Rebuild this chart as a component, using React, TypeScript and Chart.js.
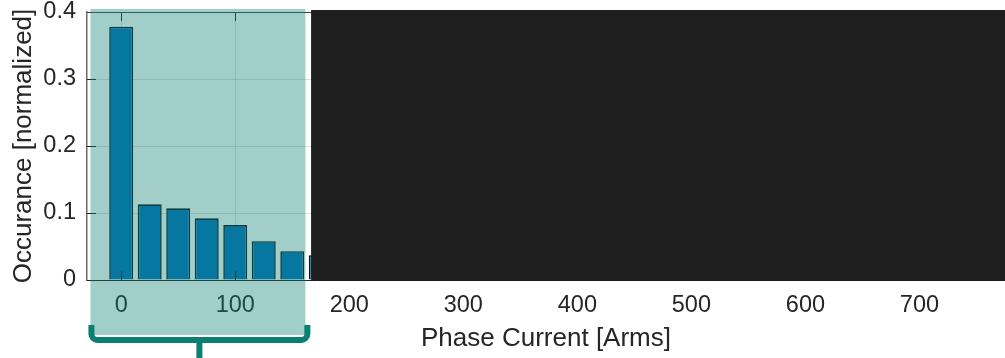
import { useEffect, useRef } from "react";
import { Chart, registerables } from "chart.js";

Chart.register(...registerables);

// Histogram bins (bin centers, Arms) and normalized occurrence
const binCenters = [0, 25, 50, 75, 100, 125, 150, 175];
const occurrence = [0.378, 0.113, 0.107, 0.092, 0.082, 0.058, 0.043, 0.037];
const xTicks = [0, 100, 200, 300, 400, 500, 600, 700];
const yTicks = [0, 0.1, 0.2, 0.3, 0.4];
const xRange = [-30, 775];
const yRange = [0, 0.4];
// annotation ranges (in x data units)
const highlightRange = [-27, 161.5];
const maskStart = 166.5;

const TEXT = "#262626";
const FONT = "'Liberation Sans', Arial, Helvetica, sans-serif";

const overlayPlugin = {
  id: "overlayPlugin",
  afterDatasetsDraw(chart: any) {
    const { ctx, chartArea: a, scales } = chart;
    const x = scales.x;
    const y = scales.y;
    ctx.save();
    ctx.strokeStyle = TEXT;
    ctx.lineWidth = 1;
    ctx.beginPath();
    xTicks.forEach((v) => {
      const px = Math.round(x.getPixelForValue(v)) + 0.5;
      ctx.moveTo(px, a.bottom);
      ctx.lineTo(px, a.bottom - 9);
      ctx.moveTo(px, a.top);
      ctx.lineTo(px, a.top + 9);
    });
    yTicks.forEach((v) => {
      const py = Math.round(y.getPixelForValue(v)) + 0.5;
      ctx.moveTo(a.left, py);
      ctx.lineTo(a.left + 9, py);
    });
    ctx.stroke();
    ctx.strokeStyle = "#444";
    ctx.beginPath();
    ctx.moveTo(a.left, a.top + 0.5);
    ctx.lineTo(a.right, a.top + 0.5);
    ctx.stroke();
    ctx.restore();
  },
  afterDraw(chart: any) {
    const { ctx, chartArea: a, scales } = chart;
    const x = scales.x;
    ctx.save();
    // highlighted region
    const x0 = x.getPixelForValue(highlightRange[0]);
    const x1 = x.getPixelForValue(highlightRange[1]);
    ctx.fillStyle = "rgba(13,128,115,0.39)";
    ctx.fillRect(x0, a.top - 3, x1 - x0, a.bottom + 55 - (a.top - 3));
    // dark mask
    const xm = x.getPixelForValue(maskStart);
    ctx.fillStyle = "#1e1e1e";
    ctx.fillRect(xm, a.top - 2, a.right - xm, a.bottom - a.top + 3);
    // bracket
    const bl = x0 + 1;
    const br = x1 + 2;
    const yh = a.bottom + 60;
    const yt = a.bottom + 45;
    ctx.strokeStyle = "rgb(12,128,112)";
    ctx.lineWidth = 6;
    ctx.lineJoin = "round";
    ctx.lineCap = "butt";
    ctx.beginPath();
    ctx.moveTo(bl, yt);
    ctx.arcTo(bl, yh, bl + 10, yh, 6);
    ctx.arcTo(br, yh, br, yt, 6);
    ctx.lineTo(br, yt);
    const mid = (bl + br) / 2;
    ctx.moveTo(mid, yh);
    ctx.lineTo(mid, chart.height + 2);
    ctx.stroke();
    ctx.restore();
  },
};

export default function App() {
  const ref = useRef<HTMLCanvasElement | null>(null);
  useEffect(() => {
    if (!ref.current) return;
    const chart = new Chart(ref.current, {
      type: "bar",
      data: {
        datasets: [
          {
            data: binCenters.map((c, i) => ({ x: c, y: occurrence[i] })),
            backgroundColor: "#0072BD",
            borderColor: "#07141a",
            borderWidth: 1.6,
            barPercentage: 0.84,
            categoryPercentage: 1,
          } as any,
        ],
      },
      options: {
        animation: false,
        responsive: false,
        events: [],
        layout: { padding: { top: 12, left: 0, right: 0, bottom: 0 } },
        plugins: { legend: { display: false }, tooltip: { enabled: false } },
        scales: {
          x: {
            type: "linear",
            min: xRange[0],
            max: xRange[1],
            offset: false,
            afterBuildTicks: (s: any) => {
              s.ticks = xTicks.map((v) => ({ value: v }));
            },
            afterFit: (s: any) => {
              s.height = 78;
              s.paddingLeft = 0;
              s.paddingRight = 0;
            },
            grid: { display: true, color: "rgba(38,38,38,0.15)", drawTicks: false, offset: false },
            border: { display: true, color: TEXT, width: 1 },
            ticks: {
              color: TEXT,
              font: { family: FONT, size: 23.5 },
              padding: 11,
              maxRotation: 0,
              autoSkip: false,
              callback: (v: any) => `${v}`,
            },
            title: {
              display: true,
              text: "Phase Current [Arms]",
              color: TEXT,
              font: { family: FONT, size: 26 },
              padding: { top: 4, bottom: 4 },
            },
          },
          y: {
            type: "linear",
            min: yRange[0],
            max: yRange[1],
            afterBuildTicks: (s: any) => {
              s.ticks = yTicks.map((v) => ({ value: v }));
            },
            afterFit: (s: any) => {
              s.width = 87;
              s.paddingTop = 0;
              s.paddingBottom = 0;
            },
            grid: { display: true, color: "rgba(38,38,38,0.15)", drawTicks: false },
            border: { display: true, color: "#6a6a6a", width: 1.5 },
            ticks: {
              color: TEXT,
              font: { family: FONT, size: 23.5 },
              padding: 11,
              callback: (v: any) => `${v}`,
            },
            title: {
              display: true,
              text: "Occurance [normalized]",
              color: TEXT,
              font: { family: FONT, size: 26 },
              padding: { top: 8, bottom: 8 },
            },
          },
        },
      },
      plugins: [overlayPlugin],
    });
    return () => chart.destroy();
  }, []);
  return (
    <div style={{ position: "fixed", left: 0, top: 0, width: 1005, height: 358, background: "#fff" }}>
      <canvas ref={ref} width={1005} height={358} style={{ display: "block" }} />
    </div>
  );
}
